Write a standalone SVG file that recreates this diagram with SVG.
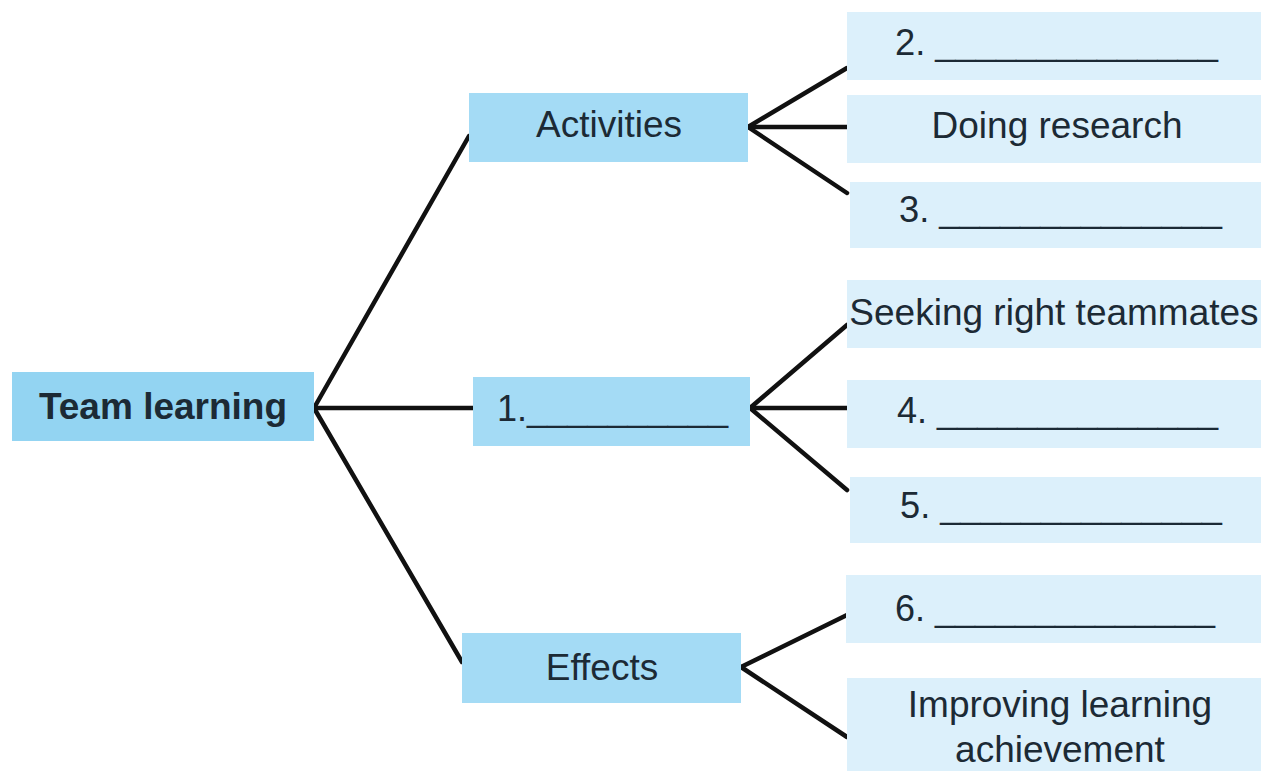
<svg xmlns="http://www.w3.org/2000/svg" width="1261" height="771" viewBox="0 0 1261 771">
<style>
.main{fill:#a4dbf5}
.root{fill:#93d4f2}
.leaf{fill:#dcf0fb}
text{font-family:"Liberation Sans",Arial,sans-serif;font-size:37px;fill:#1c2a35}
.b{font-weight:bold}
.m{text-anchor:middle}
.c line{stroke:#111;stroke-width:4.5;stroke-linecap:round}
</style>
<rect width="1261" height="771" fill="#fff"/>
<g class="c" id="connectors">
<line x1="314" y1="408" x2="469" y2="136"/>
<line x1="314" y1="408" x2="473" y2="408"/>
<line x1="314" y1="408" x2="462" y2="662"/>
<line x1="748" y1="127" x2="847" y2="68"/>
<line x1="748" y1="127" x2="847" y2="127"/>
<line x1="748" y1="127" x2="847" y2="193"/>
<line x1="750" y1="408" x2="847" y2="325"/>
<line x1="750" y1="408" x2="847" y2="408"/>
<line x1="750" y1="408" x2="847" y2="490"/>
<line x1="741" y1="667" x2="847" y2="615"/>
<line x1="741" y1="667" x2="847" y2="737"/>
</g>
<g id="team-learning"><rect class="root" x="12" y="372" width="302" height="69"/><text class="b m" x="163" y="419">Team learning</text></g>
<g id="activities"><rect class="main" x="469" y="93" width="279" height="69"/><text class="m" x="609" y="137">Activities</text></g>
<g id="blank1"><rect class="main" x="473" y="377" width="277" height="69"/><text x="497" y="421" textLength="231" lengthAdjust="spacingAndGlyphs">1.__________</text></g>
<g id="effects"><rect class="main" x="462" y="633" width="279" height="70"/><text class="m" x="602" y="680">Effects</text></g>
<g id="blank2"><rect class="leaf" x="847" y="12" width="414" height="68"/><text x="895" y="55" textLength="323" lengthAdjust="spacingAndGlyphs">2. ______________</text></g>
<g id="doing-research"><rect class="leaf" x="847" y="95" width="414" height="68"/><text class="m" x="1057" y="138">Doing research</text></g>
<g id="blank3"><rect class="leaf" x="850" y="182" width="411" height="66"/><text x="899" y="222" textLength="323" lengthAdjust="spacingAndGlyphs">3. ______________</text></g>
<g id="seeking"><rect class="leaf" x="847" y="280" width="414" height="68"/><text class="m" x="1054" y="325">Seeking right teammates</text></g>
<g id="blank4"><rect class="leaf" x="847" y="380" width="414" height="68"/><text x="897" y="423" textLength="321" lengthAdjust="spacingAndGlyphs">4. ______________</text></g>
<g id="blank5"><rect class="leaf" x="850" y="477" width="411" height="66"/><text x="900" y="518" textLength="322" lengthAdjust="spacingAndGlyphs">5. ______________</text></g>
<g id="blank6"><rect class="leaf" x="846" y="575" width="415" height="68"/><text x="895" y="621" textLength="320" lengthAdjust="spacingAndGlyphs">6. ______________</text></g>
<g id="improving"><rect class="leaf" x="847" y="678" width="414" height="93"/><text class="m" x="1060" y="717">Improving learning</text><text class="m" x="1060" y="762">achievement</text></g>
</svg>
